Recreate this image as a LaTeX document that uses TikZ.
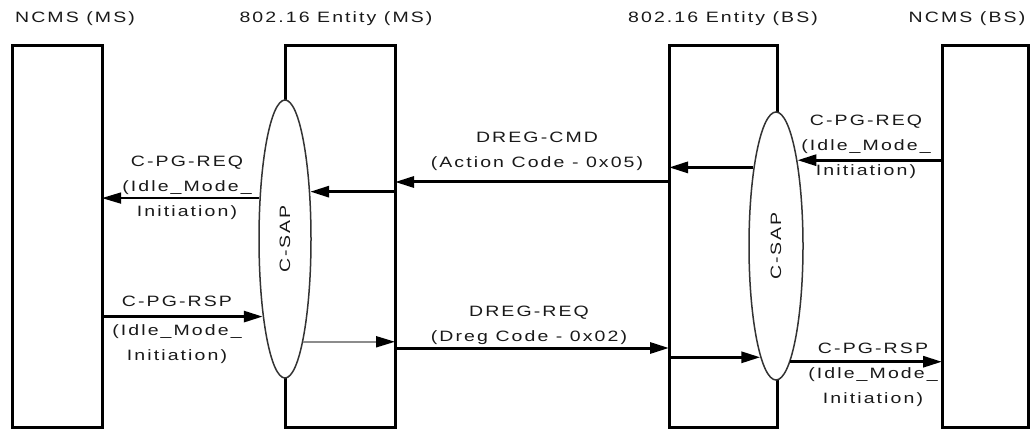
\documentclass[tikz,border=0pt]{standalone}
\usepackage{fontspec}
\newfontfamily\diafont[FakeStretch=1.3,LetterSpace=14]{Liberation Sans}
\usetikzlibrary{arrows.meta, shapes.geometric}

\begin{document}
\begin{tikzpicture}[
      x=1pt, y=-1pt,
      every node/.append style={font=\diafont\fontsize{15}{25}\selectfont, text=black!90},
      heading/.style={anchor=base},
      entity/.style={rectangle, draw, line width=3pt, inner sep=0pt, outer sep=0pt, minimum height=381pt},
      sap/.style={ellipse, draw=black!80, line width=1.5pt, fill=white, inner sep=0pt},
      msg/.style={align=center},
      arrow/.style={-{Triangle[length=19pt, width=11pt]}, line width=3pt},
      thinarrow/.style={-{Triangle[length=19pt, width=11pt]}, line width=1.5pt},
      grayarrow/.style={-{Triangle[length=19pt, width=11pt, color=black]}, line width=2pt, draw=black!45}
    ]
    \useasboundingbox (0,0) rectangle (1036,430);

    \node[entity, minimum width=90pt] (ncmsms) at (57,236.5) {};
    \node[entity, minimum width=110pt] (entms) at (340,236.5) {};
    \node[entity, minimum width=108pt] (entbs) at (723,236.5) {};
    \node[entity, minimum width=86pt] (ncmsbs) at (985,236.5) {};

    \node[sap, minimum width=52pt, minimum height=278pt] (sapms) at (285,239) {\rotatebox{90}{C-SAP}};
    \node[sap, minimum width=54pt, minimum height=268pt] (sapbs) at (776,246) {\rotatebox{90}{C-SAP}};

    \node[heading] (tncmsms) at (75,22.5) {NCMS (MS)};
    \node[heading] (tentms) at (336,22.5) {802.16 Entity (MS)};
    \node[heading] (tentbs) at (723,22.5) {802.16 Entity (BS)};
    \node[heading] (tncmsbs) at (967,22.5) {NCMS (BS)};

    \node[msg] (lreqms) at (187,188) {C-PG-REQ\\(Idle\_Mode\_\\Initiation)};
    \node[msg] (lcmd) at (537,151) {DREG-CMD\\(Action Code - 0x05)};
    \node[msg] (lreqbs) at (866,147) {C-PG-REQ\\(Idle\_Mode\_\\Initiation)};
    \node[msg] (lrspms) at (177,330) {C-PG-RSP\\[4pt](Idle\_Mode\_\\Initiation)};
    \node[msg] (ldreg) at (529,325) {DREG-REQ\\(Dreg Code - 0x02)};
    \node[msg] (lrspbs) at (873,375) {C-PG-RSP\\(Idle\_Mode\_\\Initiation)};

    \draw[thinarrow] (sapms.122.6) -- (ncmsms.east |- sapms.122.6);
    \draw[arrow] (entms.east |- sapms.62.5) -- (sapms.62.5);
    \draw[arrow] ([yshift=-136pt]entbs.north west) -- ([yshift=-136pt]entms.north east);
    \draw[arrow] (sapbs.106) -- (entbs.west |- sapbs.106);
    \draw[arrow] (ncmsbs.west |- sapbs.76.7) -- (sapbs.76.7);
    \draw[arrow] (ncmsms.east |- sapms.254) -- (sapms.254);
    \draw[grayarrow] (sapms.280.4) -- (entms.east |- sapms.280.4);
    \draw[arrow] ([yshift=-302pt]entms.north east) -- ([yshift=-302pt]entbs.north west);
    \draw[arrow] (entbs.west |- sapbs.262.9) -- (sapbs.262.9);
    \draw[arrow] (sapbs.277.5) -- (ncmsbs.west |- sapbs.277.5);
  \end{tikzpicture}
\end{document}
